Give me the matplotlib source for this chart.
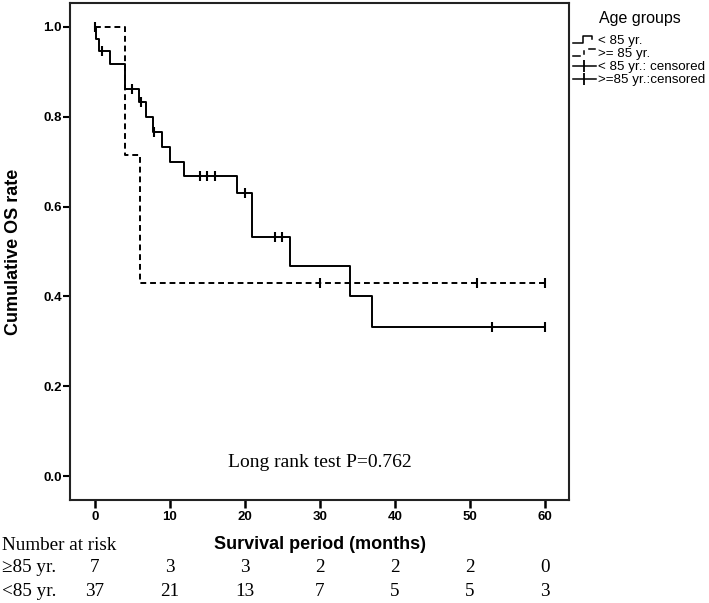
import matplotlib
matplotlib.use("Agg")
import matplotlib.pyplot as plt
from matplotlib.lines import Line2D
from matplotlib.legend_handler import HandlerBase
import matplotlib.transforms as mtransforms

# <85 yr. group (solid)
young_t = [0, 0.1, 0.6, 2.0, 4.0, 5.9, 6.8, 7.8, 8.9, 10.0, 11.9, 18.9, 21.0, 26.0, 34.0, 37.0, 60]
young_s = [1.0, 0.973, 0.946, 0.918, 0.862, 0.832, 0.800, 0.767, 0.733, 0.700, 0.667, 0.630, 0.533, 0.467, 0.400, 0.333, 0.333]
young_cens_t = [0, 1.0, 5.0, 6.1, 7.9, 14.0, 15.0, 16.0, 20.0, 24.0, 25.0, 53.0, 60.0]
young_cens_s = [1.0, 0.946, 0.862, 0.832, 0.767, 0.667, 0.667, 0.667, 0.630, 0.533, 0.533, 0.333, 0.333]

# >=85 yr. group (dashed)
old_t = [0, 4.0, 6.0, 60]
old_s = [1.0, 0.714, 0.429, 0.429]
old_cens_t = [30.0, 51.0, 60.0]
old_cens_s = [0.429, 0.429, 0.429]

risk_times = [0, 10, 20, 30, 40, 50, 60]
risk_old = [7, 3, 3, 2, 2, 2, 0]
risk_young = [37, 21, 13, 7, 5, 5, 3]

SANS = ["Liberation Sans", "DejaVu Sans"]
SERIF = ["Liberation Serif", "DejaVu Serif"]


class StepHandler(HandlerBase):
    def __init__(self, dashed=False):
        super().__init__()
        self.dashed = dashed

    def create_artists(self, legend, orig_handle, xdescent, ydescent,
                       width, height, fontsize, trans):
        w, h = width, height
        if self.dashed:
            segs = [([0, 0.3 * w], [0.05 * h, 0.05 * h]),
                    ([0.5 * w, 0.5 * w], [0.3 * h, 0.7 * h]),
                    ([0.72 * w, 0.95 * w], [0.9 * h, 0.9 * h])]
        else:
            segs = [([0, 0.45 * w, 0.45 * w, 0.85 * w, 0.85 * w],
                     [0.05 * h, 0.05 * h, 0.9 * h, 0.9 * h, 0.5 * h])]
        arts = []
        for xs, ys in segs:
            ln = Line2D([x - xdescent for x in xs], [y - ydescent for y in ys],
                        color="black", lw=1.1)
            ln.set_transform(trans)
            arts.append(ln)
        return arts


fig = plt.figure(figsize=(7.09, 6.03), dpi=100)
ax = fig.add_axes([70 / 709, 103 / 603, 499 / 709, 497 / 603])

ax.step(young_t, young_s, where="post", color="black", lw=1.4)
ax.step(old_t, old_s, where="post", color="black", lw=1.4, dashes=(3, 2))
ax.plot(young_cens_t, young_cens_s, ls="none", marker="|", ms=7, mew=1.5, color="black")
ax.plot(old_cens_t, old_cens_s, ls="none", marker="|", ms=7, mew=1.5, color="black")

ax.set_xlim(-3.3, 63.2)
ax.set_ylim(-0.053, 1.053)
ax.set_xticks(risk_times)
ax.set_yticks([0.0, 0.2, 0.4, 0.6, 0.8, 1.0])
ax.set_yticklabels(["0.0", "0.2", "0.4", "0.6", "0.8", "1.0"])
for sp in ax.spines.values():
    sp.set_linewidth(1.5)
    sp.set_color("#222222")
ax.tick_params(axis="x", direction="out", length=6, width=1.8, pad=2)
ax.tick_params(axis="y", direction="out", length=5, width=1.5, pad=1)
for lab in ax.get_xticklabels() + ax.get_yticklabels():
    lab.set_family(SANS)
    lab.set_fontsize(9.5)
    lab.set_fontweight("bold")

ax.set_ylabel("Cumulative OS rate", family=SANS, fontsize=13, fontweight="bold")
ax.yaxis.set_label_coords(-0.097, 0.5)
ax.set_xlabel("Survival period (months)", family=SANS, fontsize=13, fontweight="bold")
ax.xaxis.set_label_coords(0.5, -0.0905)
ax.xaxis.label.set_verticalalignment("center")

ax.text(30, 0.031, "Long rank test P=0.762", family=SERIF, fontsize=14,
        ha="center", va="center")

# number at risk table
tr = mtransforms.blended_transform_factory(ax.transData, fig.transFigure)
fig.text(2 / 709, 1 - 545 / 603, "Number at risk", family=SERIF, fontsize=13.8, va="center")
fig.text(2 / 709, 1 - 568 / 603, "\u226585 yr.", family=SERIF, fontsize=13.8, va="center")
fig.text(2 / 709, 1 - 592 / 603, "<85 yr.", family=SERIF, fontsize=13.8, va="center")
for t, a, b in zip(risk_times, risk_old, risk_young):
    ax.text(t, 1 - 568 / 603, str(a), transform=tr, family=SERIF, fontsize=13.8,
            ha="center", va="center", clip_on=False)
    ax.text(t, 1 - 592 / 603, str(b), transform=tr, family=SERIF, fontsize=13.8,
            ha="center", va="center", clip_on=False)

# legend
fig.text(640 / 709, 1 - 19 / 603, "Age groups", family=SANS, fontsize=11.5,
         ha="center", va="center")
h_young = Line2D([], [], color="black")
h_old = Line2D([], [], color="black", ls="--")
h_yc = Line2D([], [], color="black", lw=1.1, marker="|", ms=8, mew=1.3)
h_oc = Line2D([], [], color="black", lw=1.1, marker="|", ms=8, mew=1.3)
leg = fig.legend([h_young, h_old, h_yc, h_oc],
                 ["< 85 yr.", ">= 85 yr.", "< 85 yr.: censored", ">=85 yr.:censored"],
                 handler_map={h_young: StepHandler(False), h_old: StepHandler(True)},
                 loc="upper left", bbox_to_anchor=(573 / 709, 1 - 35 / 603),
                 frameon=False, prop={"family": SANS, "size": 9.6},
                 handlelength=1.7, handletextpad=0.2, labelspacing=0.08,
                 borderpad=0, borderaxespad=0, handleheight=0.6)

fig.savefig("out.png", dpi=100)
